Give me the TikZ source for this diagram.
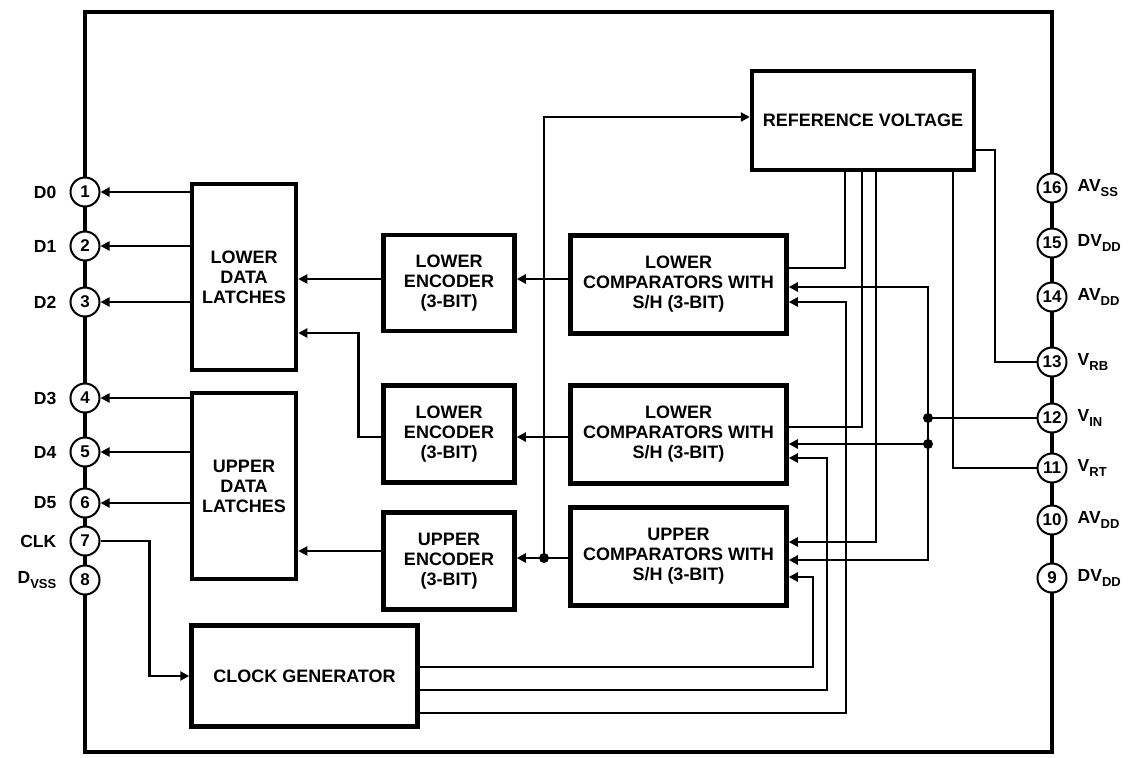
\documentclass[tikz,border=0pt]{standalone}
\usepackage{fontspec}
\setmainfont{Liberation Sans}
\usetikzlibrary{arrows.meta}

\newcommand{\pinsub}[1]{\raisebox{-0.45ex}{\fontsize{13pt}{13pt}\selectfont #1}}

\begin{document}
\begin{tikzpicture}[x=1pt, y=-1pt, >={Triangle[length=9pt,width=9pt]},
    blk/.style={draw, line width=4.5pt, fill=white, align=center, inner sep=0pt,
        font=\fontsize{18pt}{20pt}\selectfont\bfseries},
    pin/.style={draw, circle, line width=2pt, fill=white, minimum size=29pt, inner sep=0pt,
        font=\fontsize{17pt}{17pt}\selectfont\bfseries},
    lbl/.style={inner sep=0pt, font=\fontsize{17.5pt}{17.5pt}\selectfont\bfseries},
    wire/.style={line width=2.6pt}]

    \useasboundingbox (0,0) rectangle (1133,758);
    \draw[line width=4.5pt] (85,12) rectangle (1052,752);

    % blocks
    \node[blk, minimum width=222pt, minimum height=99pt] (ref) at (863,120.5) {REFERENCE VOLTAGE};
    \node[blk, minimum width=104pt, minimum height=186pt] (latchL) at (244,277) {LOWER\\DATA\\LATCHES};
    \node[blk, minimum width=104pt, minimum height=186pt] (latchU) at (244,486) {UPPER\\DATA\\LATCHES};
    \node[blk, minimum width=131pt, minimum height=96pt] (enc1) at (449,283) {LOWER\\ENCODER\\(3-BIT)};
    \node[blk, minimum width=131pt, minimum height=97pt] (enc2) at (449,434) {LOWER\\ENCODER\\(3-BIT)};
    \node[blk, minimum width=131pt, minimum height=97pt] (encU) at (449,561) {UPPER\\ENCODER\\(3-BIT)};
    \node[blk, minimum width=216pt, minimum height=98pt] (comp1) at (678.5,284.5) {LOWER\\COMPARATORS WITH\\S/H (3-BIT)};
    \node[blk, minimum width=216pt, minimum height=98pt] (comp2) at (678.5,434.5) {LOWER\\COMPARATORS WITH\\S/H (3-BIT)};
    \node[blk, minimum width=216pt, minimum height=98pt] (comp3) at (678.5,556.5) {UPPER\\COMPARATORS WITH\\S/H (3-BIT)};
    \node[blk, minimum width=226pt, minimum height=101pt] (clk) at (304.5,676) {CLOCK GENERATOR};

    % pins
    \foreach \n/\y/\t in {1/192/D0, 2/246/D1, 3/302/D2, 4/398/D3, 5/452/D4, 6/503/D5,
                          7/541/CLK, 8/580/{D\pinsub{VSS}}} {
        \node[pin] (p\n) at (85,\y) {\n};
        \node[lbl, anchor=east] (l\n) at ([xshift=-13pt]p\n.west) {\t};
    }
    \foreach \n/\y/\t in {16/188/{AV\pinsub{SS}}, 15/243/{DV\pinsub{DD}}, 14/297/{AV\pinsub{DD}},
                          13/362/{V\pinsub{RB}}, 12/418/{V\pinsub{IN}}, 11/468/{V\pinsub{RT}},
                          10/520/{AV\pinsub{DD}}, 9/578/{DV\pinsub{DD}}} {
        \node[pin] (p\n) at (1052,\y) {\n};
        \node[lbl, anchor=west] (l\n) at ([xshift=10pt]p\n.east) {\t};
    }

    % latches to outputs
    \foreach \n in {1,2,3} \draw[wire,->] (latchL.west |- p\n) -- (p\n.east);
    \foreach \n in {4,5,6} \draw[wire,->] (latchU.west |- p\n) -- (p\n.east);
    \draw[wire,->] (p7.east) -| ([xshift=-40pt]clk.west) -- (clk.west);

    % encoders
    \draw[wire,->] (enc1.west |- 0,279) -- (latchL.east |- 0,279);
    \draw[wire,->] (enc2.west |- 0,437) -- ++(-23,0) |- (latchL.east |- 0,333);
    \draw[wire,->] (encU.west |- 0,551) -- (latchU.east |- 0,551);
    \draw[wire,->] (comp1.west |- 0,279) -- (enc1.east |- 0,279);
    \draw[wire,->] (comp2.west |- 0,437) -- (enc2.east |- 0,437);
    \draw[wire,->] (comp3.west |- 0,558) -- (encU.east |- 0,558);
    \coordinate (tap) at (544,558);
    \draw[wire,->] (tap) |- (ref.west |- 0,117);
    \fill (tap) circle (5pt);

    % reference taps
    \draw[wire] (ref.south -| 845,0) |- (comp1.east |- 0,268);
    \draw[wire] (ref.south -| 862,0) |- (comp2.east |- 0,427);
    \draw[wire,->] (ref.south -| 876,0) |- (comp3.east |- 0,542);
    \draw[wire] (ref.south -| 953,0) |- (p11.west);
    \draw[wire] (ref.east |- 0,150) -| (p13.west -| 995,0) -- (p13.west);

    % analog input
    \coordinate (vin) at (928,418);
    \coordinate (vin2) at (928,444);
    \draw[wire] (p12.west) -- (vin);
    \draw[wire,->] (vin) |- (comp1.east |- 0,287);
    \draw[wire,->] (vin) |- (comp3.east |- 0,560);
    \draw[wire,->] (vin2) -- (comp2.east |- vin2);
    \fill (vin) circle (5pt) (vin2) circle (5pt);

    % clock lines
    \coordinate (c1) at (813,577);
    \coordinate (c2) at (827,458);
    \coordinate (c3) at (846,302);
    \draw[wire,->] (clk.east |- 0,667) -| (c1) -- (c1 -| comp3.east);
    \draw[wire,->] (clk.east |- 0,690) -| (c2) -- (c2 -| comp2.east);
    \draw[wire,->] (clk.east |- 0,713) -| (c3) -- (c3 -| comp1.east);
\end{tikzpicture}
\end{document}
